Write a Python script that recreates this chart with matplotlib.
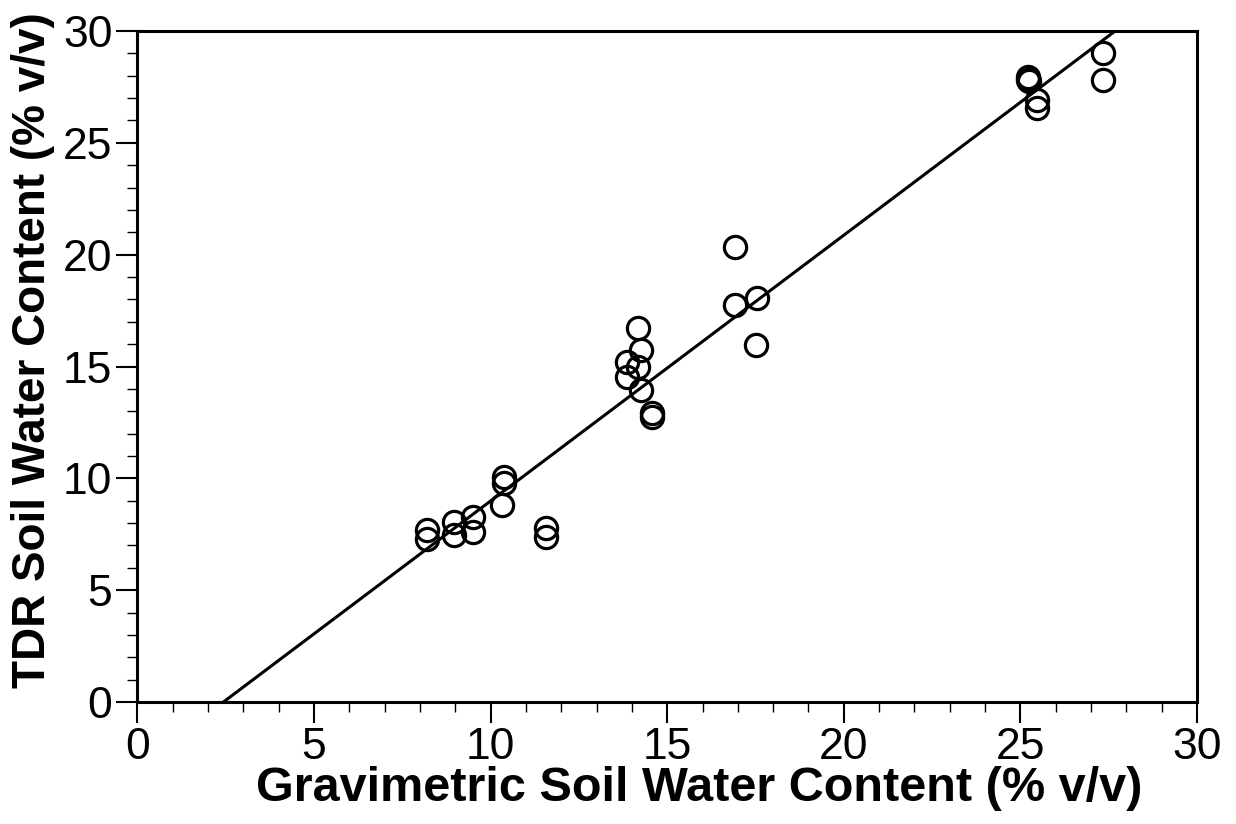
import matplotlib
matplotlib.use("Agg")
import matplotlib.pyplot as plt
from matplotlib.ticker import MultipleLocator
import numpy as np

plt.rcParams['font.family'] = ['Liberation Sans', 'DejaVu Sans']

gravimetric = [8.2, 8.2, 8.96, 8.96, 9.51, 9.51, 10.31, 10.39, 10.39, 11.56, 11.56,
               14.18, 14.27, 13.85, 14.18, 13.85, 14.27, 14.56, 14.56,
               16.92, 16.92, 17.53, 17.51,
               25.22, 25.22, 25.25, 25.46, 25.46, 27.35, 27.35]
tdr = [7.69, 7.29, 8.06, 7.45, 8.28, 7.61, 8.81, 10.07, 9.78, 7.77, 7.39,
       16.7, 15.73, 15.21, 14.99, 14.54, 13.95, 12.9, 12.75,
       20.35, 17.75, 18.05, 15.96,
       27.95, 27.83, 27.75, 26.91, 26.54, 29.0, 27.83]

fit_slope = 1.188
fit_intercept = -2.89
fit_x_range = [2.43, 27.68]

fig = plt.figure(figsize=(12.36, 8.24), dpi=100)
ax = fig.add_axes([0.1112, 0.148, 0.8572, 0.8144])

fx = np.array(fit_x_range)
ax.plot(fx, fit_slope * fx + fit_intercept, color='black', lw=2.2)
ax.plot(gravimetric, tdr, linestyle='none', marker='o', markersize=16,
        markerfacecolor='none', markeredgecolor='black', markeredgewidth=2.3)

ax.set_xlim(0, 30)
ax.set_ylim(0, 30)
ax.xaxis.set_major_locator(MultipleLocator(5))
ax.xaxis.set_minor_locator(MultipleLocator(1))
ax.yaxis.set_major_locator(MultipleLocator(5))
ax.yaxis.set_minor_locator(MultipleLocator(1))
ax.tick_params(which='both', direction='out', top=False, right=False, width=1.5,
               labelsize=32, pad=3)
ax.tick_params(which='major', length=15)
ax.tick_params(which='minor', length=7, width=1.0)
for s in ax.spines.values():
    s.set_linewidth(2.2)

ax.set_xlabel('Gravimetric Soil Water Content (% v/v)', fontsize=35, fontweight='bold')
ax.set_ylabel('TDR Soil Water Content (% v/v)', fontsize=33, fontweight='bold')
ax.xaxis.set_label_coords(0.53, -0.095, transform=ax.transAxes)
ax.xaxis.label.set_va('top')
ax.yaxis.set_label_coords(-0.078, 0.525, transform=ax.transAxes)

fig.savefig('out.png', dpi=100)
